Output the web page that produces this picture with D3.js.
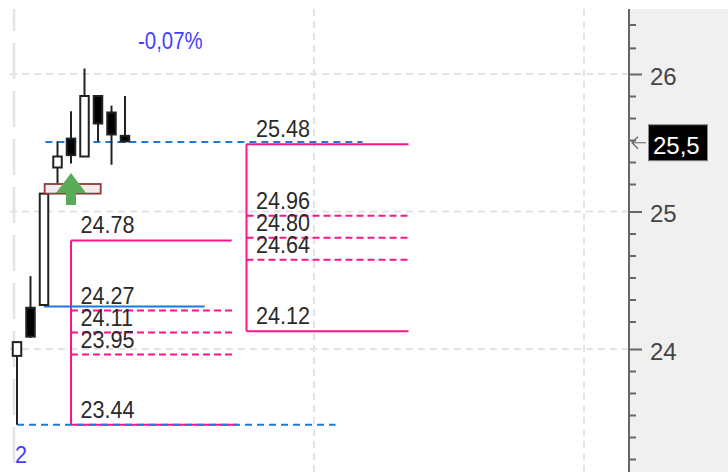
<!DOCTYPE html>
<html>
<head>
<meta charset="utf-8">
<script src="https://d3js.org/d3.v7.min.js"></script>
<style>
  body { margin: 0; background: #fff; }
  svg { display: block; }
  text { font-family: "Liberation Sans", Arial, sans-serif; }
</style>
</head>
<body>
<svg width="728" height="472"></svg>
<script>

// candles, oldest first
var opens  = [23.95, 24.30, 24.32, 25.32, 25.53, 25.40, 25.84, 25.72, 25.55];
var closes = [24.05, 24.09, 25.13, 25.40, 25.41, 25.84, 25.64, 25.56, 25.51];
var highs  = [24.05, 24.53, 25.13, 25.51, 25.73, 26.04, 25.84, 25.77, 25.84];
var lows   = [23.45, 24.08, 24.32, 25.13, 25.35, 25.40, 25.51, 25.34, 25.50];

// price axis
var majorTicks = [26, 25, 24];
var minorTicks = [26.36, 26.19, 25.84, 25.68, 25.52, 25.36, 25.2, 24.84, 24.68, 24.52,
                  24.36, 24.2, 23.84, 23.68, 23.52, 23.36, 23.2];
var gridBars = [22, 42];
var firstGridBar = -0.22;

// levels: value, first bar, last bar
var solidPink = [
  [24.79, 4, 15.9], [23.45, 4, 16.3],
  [25.49, 17, 29], [24.13, 17, 29]
];
var dashedPink = [
  [24.28, 4, 16], [24.12, 4, 16], [23.96, 4, 16],
  [24.97, 17, 29], [24.81, 17, 29], [24.65, 17, 29]
];
var pinkStems = [[4, 24.79, 23.45], [17, 25.49, 24.13]];
var blueDashed = [[25.505, 2.1, 25.6], [23.45, 0, 23.6]];
var blueSolid = [[24.31, 2, 13.9]];

var levelValues = [24.79, 24.28, 24.12, 23.96, 23.45, 25.49, 24.97, 24.81, 24.65, 24.13];
var levelBars = [4, 4, 4, 4, 4, 17, 17, 17, 17, 17];
var levelLabels = ["24.78", "24.27", "24.11", "23.95", "23.44", "25.48", "24.96", "24.80", "24.64", "24.12"];

var zone = [25.2, 25.13, 2.05, 6.2];
var arrowBar = 4;
var lastPrice = "25,5";
var lastPriceValue = 25.5;
var changeText = "-0,07%";
var countText = "2";

var svg = d3.select("svg");

var x = d3.scaleLinear().domain([0, 20]).range([17, 287]);
var y = d3.scaleLinear().domain([26, 24]).range([74, 349]);

var axisX = 629, topY = 9, bottomY = 472;

// right panel
svg.append("rect").attr("x", axisX).attr("y", topY)
   .attr("width", 728 - axisX).attr("height", bottomY - topY).attr("fill", "#f0f0f0");

// grid
var grid = svg.append("g").attr("stroke", "#e3e3e3").attr("stroke-width", 2);
grid.selectAll(".h").data(majorTicks).enter().append("line")
    .attr("x1", 10).attr("x2", axisX)
    .attr("y1", function(d) { return y(d); }).attr("y2", function(d) { return y(d); })
    .attr("stroke-dasharray", "7 5");
grid.selectAll(".v").data(gridBars).enter().append("line")
    .attr("x1", function(d) { return x(d); }).attr("x2", function(d) { return x(d); })
    .attr("y1", topY).attr("y2", bottomY)
    .attr("stroke-dasharray", "7 5");
grid.append("line")
    .attr("x1", x(firstGridBar)).attr("x2", x(firstGridBar))
    .attr("y1", topY).attr("y2", bottomY)
    .attr("stroke", "#e3e3e3").attr("stroke-width", 2.5)
    .attr("stroke-dasharray", "36 12").attr("stroke-dashoffset", 14);

function hLines(data, color, width, dash) {
  svg.append("g").selectAll("line").data(data).enter().append("line")
     .attr("x1", function(d) { return x(d[1]); })
     .attr("x2", function(d) { return x(d[2]); })
     .attr("y1", function(d) { return y(d[0]); })
     .attr("y2", function(d) { return y(d[0]); })
     .attr("stroke", color).attr("stroke-width", width)
     .attr("stroke-dasharray", dash);
}

var pink = "#ff1488", blue = "#1f78dc";

hLines(dashedPink, pink, 2, "7 4");
hLines(solidPink, pink, 2, null);
svg.append("g").selectAll("line").data(pinkStems).enter().append("line")
   .attr("x1", function(d) { return x(d[0]); }).attr("x2", function(d) { return x(d[0]); })
   .attr("y1", function(d) { return y(d[1]); }).attr("y2", function(d) { return y(d[2]); })
   .attr("stroke", pink).attr("stroke-width", 2);
hLines(blueDashed, blue, 2, "7 5");
hLines(blueSolid, blue, 2, null);

// candles
var bodyW = 8.5;
var candles = svg.append("g").selectAll("g").data(opens).enter().append("g");
candles.append("line")
    .attr("x1", function(d, i) { return x(i); }).attr("x2", function(d, i) { return x(i); })
    .attr("y1", function(d, i) { return y(highs[i]); })
    .attr("y2", function(d, i) { return y(lows[i]); })
    .attr("stroke", "#222").attr("stroke-width", 2);
candles.append("rect")
    .attr("x", function(d, i) { return x(i) - bodyW / 2; })
    .attr("width", bodyW)
    .attr("y", function(d, i) { return y(Math.max(opens[i], closes[i])); })
    .attr("height", function(d, i) { return Math.abs(y(opens[i]) - y(closes[i])); })
    .attr("fill", function(d, i) { return closes[i] >= opens[i] ? "#fff" : "#000"; })
    .attr("stroke", "#222").attr("stroke-width", 2);

// zone box and arrow
svg.append("rect")
   .attr("x", x(zone[2])).attr("width", x(zone[3]) - x(zone[2]))
   .attr("y", y(zone[0]) ).attr("height", y(zone[1]) - y(zone[0]))
   .attr("fill", "#f3ecec").attr("stroke", "#8e3b3b").attr("stroke-width", 1.8);

var ax = x(arrowBar);
svg.append("path")
   .attr("d", "M" + ax + ",173 L" + (ax + 15) + ",193 L" + (ax + 5) + ",193 L" + (ax + 5) + ",205 L"
        + (ax - 5) + ",205 L" + (ax - 5) + ",193 L" + (ax - 15) + ",193 Z")
   .attr("fill", "#5aab58");

// level labels
svg.append("g").selectAll("text").data(levelLabels).enter().append("text")
   .attr("transform", function(d, i) {
     return "translate(" + (x(levelBars[i]) + 9.5) + "," + (y(levelValues[i]) - 7) + ") scale(0.9,1)";
   })
   .attr("font-size", 24).attr("fill", "#2a2a2a")
   .text(function(d) { return d; });

svg.append("text")
   .attr("transform", "translate(138,49) scale(0.85,1)")
   .attr("font-size", 24).attr("fill", "#3f3fff").text(changeText);

svg.append("text")
   .attr("transform", "translate(15,463) scale(0.9,1)")
   .attr("font-size", 24).attr("fill", "#3f3fff").text(countText);

// price axis
var minorAxis = svg.append("g").attr("transform", "translate(" + axisX + ",0)")
   .call(d3.axisRight(y).tickValues(minorTicks).tickSize(7).tickFormat(""));
minorAxis.select(".domain").remove();

var majorAxis = svg.append("g").attr("transform", "translate(" + axisX + ",0)")
   .call(d3.axisRight(y).tickValues(majorTicks).tickSize(13).tickPadding(8).tickFormat(d3.format("d")));
majorAxis.select(".domain").remove();
majorAxis.selectAll("text").attr("font-size", 24).attr("font-family", "Liberation Sans")
   .attr("fill", "#444").attr("dy", "0.42em");

svg.selectAll(".tick line").attr("stroke", "#666").attr("stroke-width", 2);

svg.append("line").attr("x1", axisX).attr("x2", axisX).attr("y1", topY).attr("y2", bottomY)
   .attr("stroke", "#666").attr("stroke-width", 2);

// last price
var lastY = y(lastPriceValue);
svg.append("path")
   .attr("d", "M646," + lastY + " L632," + lastY + " M638," + (lastY - 6) + " L632," + lastY + " L638," + (lastY + 6))
   .attr("fill", "none").attr("stroke", "#666").attr("stroke-width", 1.2);
svg.append("rect").attr("x", 648.5).attr("y", lastY - 18).attr("width", 59).attr("height", 36)
   .attr("fill", "#000").attr("stroke", "#888").attr("stroke-width", 1);
svg.append("text").attr("x", 653).attr("y", lastY + 11)
   .attr("font-size", 24).attr("fill", "#fff").text(lastPrice);

</script>
</body>
</html>
